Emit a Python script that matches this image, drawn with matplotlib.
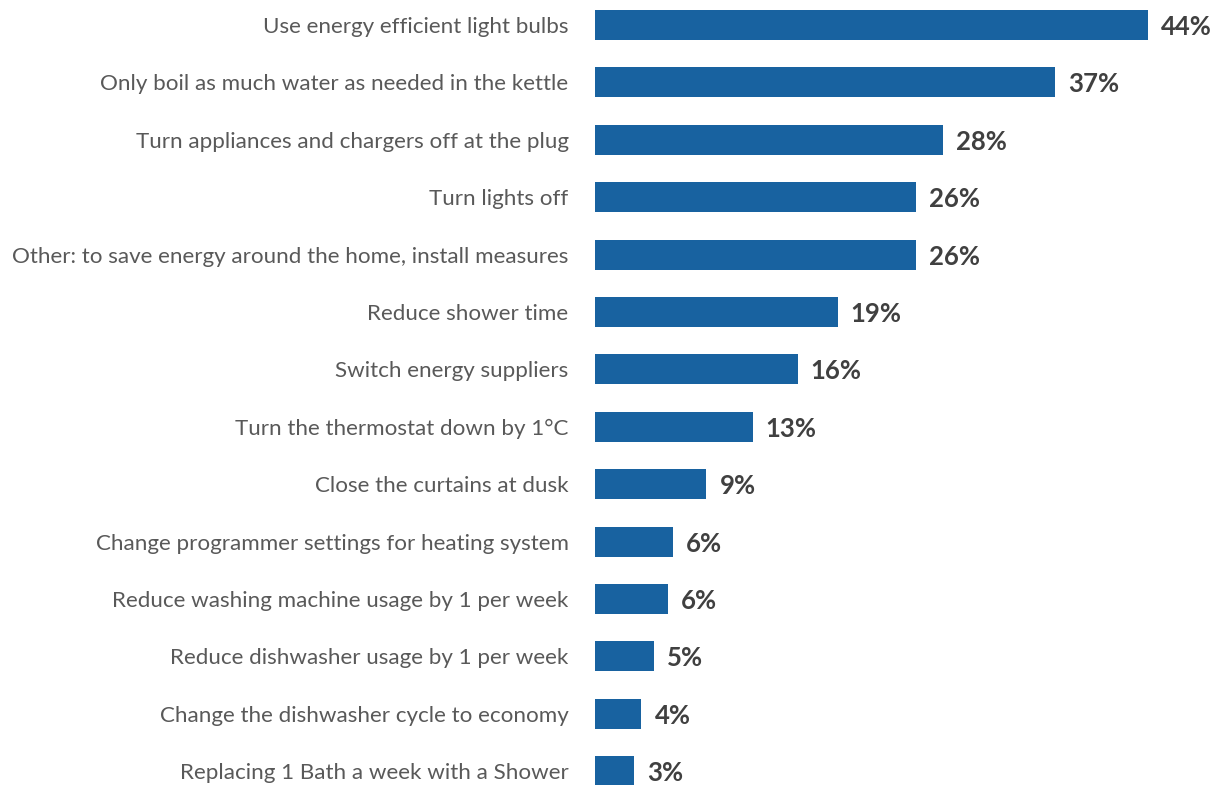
import matplotlib
matplotlib.use("Agg")
import matplotlib.pyplot as plt

categories = [
    "Use energy efficient light bulbs",
    "Only boil as much water as needed in the kettle",
    "Turn appliances and chargers off at the plug",
    "Turn lights off",
    "Other: to save energy around the home, install measures",
    "Reduce shower time",
    "Switch energy suppliers",
    "Turn the thermostat down by 1°C",
    "Close the curtains at dusk",
    "Change programmer settings for heating system",
    "Reduce washing machine usage by 1 per week",
    "Reduce dishwasher usage by 1 per week",
    "Change the dishwasher cycle to economy",
    "Replacing 1 Bath a week with a Shower",
]
values = [44.2, 36.8, 27.8, 25.7, 25.7, 19.4, 16.2, 12.6, 8.9, 6.2, 5.8, 4.7, 3.7, 3.1]
labels = ["44%", "37%", "28%", "26%", "26%", "19%", "16%", "13%", "9%", "6%", "6%", "5%", "4%", "3%"]

W, H = 1222, 785
fig = plt.figure(figsize=(W / 100, H / 100), dpi=100)
n = len(categories)
step = 57.4
top_c = 25
y_top = top_c - step / 2
y_bot = top_c + (n - 1) * step + step / 2
ax = fig.add_axes([595 / W, 1 - y_bot / H, (1220 - 595) / W, (y_bot - y_top) / H])

ypos = list(range(n))
ax.barh(ypos, values, height=0.52, color="#1862A0")
ax.set_ylim(n - 0.5, -0.5)
ax.set_xlim(0, 50)
ax.set_yticks(ypos)
ax.set_yticklabels(categories, fontsize=16.1, color="#595959", family="Lato")
ax.tick_params(axis="y", length=0, pad=19)
ax.set_xticks([])
for s in ax.spines.values():
    s.set_visible(False)

for y, v, lab in zip(ypos, values, labels):
    ax.annotate(lab, (v, y), xytext=(9.5, -1.5), textcoords="offset points",
                ha="left", va="center", fontsize=18.5, fontweight="bold",
                color="#404040", family="Lato")

fig.savefig("out.png", dpi=100)
